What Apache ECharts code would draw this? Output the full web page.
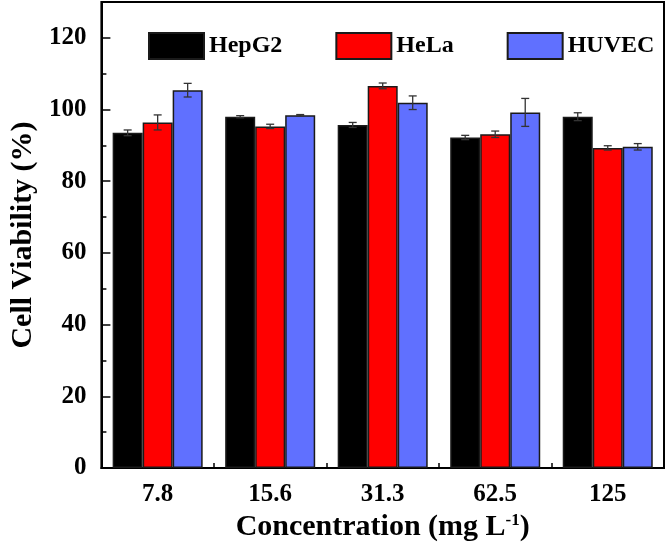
<!DOCTYPE html>
<html>
<head>
<meta charset="utf-8">
<script src="https://cdn.jsdelivr.net/npm/echarts@6/dist/echarts.min.js"></script>
<style>html,body{margin:0;padding:0;background:#fff}#c{width:667px;height:548px}</style>
</head>
<body>
<div id="c"></div>
<script>
const categories = ['7.8', '15.6', '31.3', '62.5', '125'];
const seriesNames = ['HepG2', 'HeLa', 'HUVEC'];
const hepg2 = [93.5, 98.0, 95.7, 92.2, 98.0];
const hela = [96.4, 95.3, 106.6, 93.1, 89.3];
const huvec = [105.4, 98.4, 101.9, 99.2, 89.6];
const hepg2Err = [0.8, 0.3, 0.7, 0.6, 1.1];
const helaErr = [2.1, 0.6, 0.8, 0.9, 0.6];
const huvecErr = [1.9, 0.2, 1.9, 3.9, 0.9];
const yTicks = [0, 20, 40, 60, 80, 100, 120];
const colors = ['#000000', '#FF0000', '#6070FF'];

const FONT = "'Liberation Serif','Times New Roman',serif";
const values = [hepg2, hela, huvec];
const errs = [hepg2Err, helaErr, huvecErr];

const chart = echarts.init(document.getElementById('c'));

const barSeries = seriesNames.map((n, i) => ({
  name: n, type: 'bar', data: values[i],
  barGap: '0%', barCategoryGap: '20%',
  itemStyle: { color: colors[i], borderColor: '#1a1a1a', borderWidth: 1.5 },
  emphasis: { disabled: true },
  z: 2
}));

const errSeries = seriesNames.map((n, i) => ({
  type: 'custom',
  data: categories.map((c, k) => [k, values[i][k], errs[i][k]]),
  z: 5,
  silent: true,
  renderItem: function (params, api) {
    const k = api.value(0), v = api.value(1), e = api.value(2);
    const band = api.size([1, 0])[0];
    const w = band * 0.8 / 3;
    const off = (i - 1) * w;
    const top = api.coord([k, v + e]);
    const bot = api.coord([k, v - e]);
    const x = top[0] + off;
    const cap = 4;
    const st = { stroke: '#333', lineWidth: 1.3 };
    return { type: 'group', children: [
      { type: 'line', shape: { x1: x, y1: top[1], x2: x, y2: bot[1] }, style: st },
      { type: 'line', shape: { x1: x - cap, y1: top[1], x2: x + cap, y2: top[1] }, style: st },
      { type: 'line', shape: { x1: x - cap, y1: bot[1], x2: x + cap, y2: bot[1] }, style: st }
    ]};
  }
}));

chart.setOption({
  backgroundColor: '#fff',
  animation: false,
  grid: { left: 88, right: 3, top: 2, bottom: 80, show: true, borderColor: '#000', borderWidth: 2, backgroundColor: 'transparent' },
  legend: {
    data: seriesNames.map(n => ({ name: n, icon: 'rect' })),
    left: 143, top: 27,
    itemWidth: 55, itemHeight: 26, itemGap: 53,
    textStyle: { fontFamily: FONT, fontWeight: 'bold', fontSize: 24, color: '#000' }
  },
  xAxis: [{
    type: 'category', data: categories,
    axisLine: { lineStyle: { color: '#000', width: 2 } },
    axisTick: { show: true, inside: true, alignWithLabel: true, length: 5, lineStyle: { color: '#000', width: 1.5 } },
    axisLabel: { fontFamily: FONT, fontWeight: 'bold', fontSize: 25, color: '#000', margin: 14 },
    name: 'Concentration (mg L{sup|-1})',
    nameLocation: 'middle', nameGap: 39,
    nameTextStyle: { fontFamily: FONT, fontWeight: 'bold', fontSize: 30, color: '#000',
      rich: { sup: { fontFamily: FONT, fontWeight: 'bold', fontSize: 17, color: '#000', verticalAlign: 'top', padding: [0, 0, 14, 0] } } }
  }, {
    type: 'category', data: categories, position: 'bottom',
    axisLine: { show: false },
    axisTick: { show: true, inside: true, length: 5, lineStyle: { color: '#000', width: 1.5 } },
    axisLabel: { show: false }
  }],
  yAxis: [{
    type: 'value', min: 0, max: 130, interval: 20,
    axisLine: { show: true, lineStyle: { color: '#000', width: 2 } },
    axisTick: { show: true, inside: true, length: 9, lineStyle: { color: '#000', width: 1.5 } },
    splitLine: { show: false },
    axisLabel: { fontFamily: FONT, fontWeight: 'bold', fontSize: 25, color: '#000', margin: 15,
      showMaxLabel: false,
      formatter: v => (yTicks.indexOf(v) >= 0 ? String(v) : '') },
    name: 'Cell Viability (%)', nameLocation: 'middle', nameGap: 57,
    nameTextStyle: { fontFamily: FONT, fontWeight: 'bold', fontSize: 30, color: '#000' }
  }, {
    type: 'value', min: 0, max: 130, interval: 10, position: 'left',
    axisLine: { show: false },
    axisTick: { show: true, inside: true, length: 5, lineStyle: { color: '#000', width: 1.5 } },
    splitLine: { show: false },
    axisLabel: { show: false }
  }],
  series: barSeries.concat(errSeries)
});
</script>
</body>
</html>
